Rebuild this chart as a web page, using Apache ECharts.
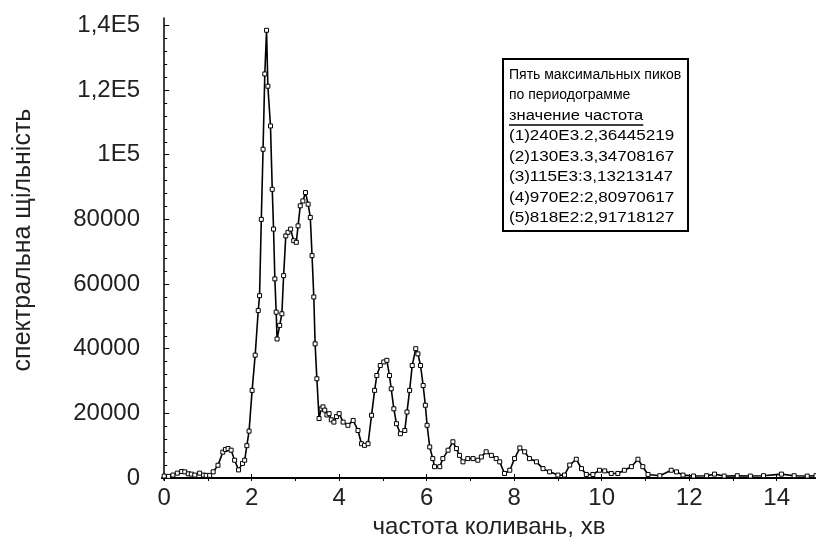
<!DOCTYPE html>
<html>
<head>
<meta charset="utf-8">
<script src="https://cdn.jsdelivr.net/npm/echarts@6/dist/echarts.min.js"></script>
<style>
  html, body { margin: 0; padding: 0; background: #fff; }
  #chart { width: 816px; height: 544px; }
</style>
</head>
<body>
<div id="chart"></div>
<script>
// частота (x) and спектральна щільність (y)
const freq = [
  0.00, 0.10, 0.20, 0.30, 0.40, 0.47, 0.55, 0.62, 0.70, 0.81, 0.90, 0.96,
  1.04, 1.12, 1.23, 1.34, 1.40, 1.46, 1.53, 1.61, 1.70, 1.79, 1.84, 1.89,
  1.94, 2.01, 2.08, 2.15, 2.18, 2.22, 2.26, 2.30, 2.34, 2.37, 2.43, 2.47,
  2.50, 2.53, 2.56, 2.58, 2.64, 2.69, 2.73, 2.78, 2.83, 2.89, 2.96, 3.02,
  3.06, 3.11, 3.17, 3.23, 3.29, 3.34, 3.38, 3.42, 3.45, 3.49, 3.54, 3.59,
  3.63, 3.67, 3.72, 3.77, 3.82, 3.88, 3.94, 4.00, 4.09, 4.20, 4.32, 4.43,
  4.51, 4.58, 4.66, 4.74, 4.81, 4.86, 4.94, 5.02, 5.09, 5.15, 5.19, 5.25,
  5.31, 5.40, 5.50, 5.55, 5.61, 5.67, 5.75, 5.80, 5.86, 5.92, 5.97, 6.01,
  6.07, 6.14, 6.18, 6.30, 6.37, 6.49, 6.60, 6.68, 6.75, 6.83, 6.94, 7.06,
  7.17, 7.25, 7.36, 7.48, 7.59, 7.67, 7.78, 7.90, 8.01, 8.13, 8.24, 8.35,
  8.51, 8.66, 8.81, 9.00, 9.15, 9.27, 9.42, 9.54, 9.65, 9.80, 9.95, 10.07,
  10.22, 10.37, 10.52, 10.68, 10.83, 10.94, 11.06, 11.33, 11.59, 11.71, 11.86, 12.10,
  12.40, 12.58, 12.80, 13.10, 13.40, 13.70, 14.11, 14.40, 14.70, 14.90
];
const density = [
  600, 500, 900, 1500, 2000, 1900, 1300, 1200, 900, 1500, 900, 800,
  800, 1900, 3950, 8000, 8800, 9100, 8600, 5500, 2500, 4500, 5500, 10000,
  14500, 27100, 38000, 51800, 56400, 80000, 101700, 125000, 138500, 121200, 108900, 89300,
  77000, 61600, 51300, 43000, 47200, 50800, 62600, 74900, 76000, 77000, 73400, 72900,
  78000, 84200, 85700, 88300, 84700, 80600, 68800, 56000, 41500, 30700, 18400, 21400,
  22000, 21000, 19500, 19900, 18000, 17300, 19000, 19900, 17300, 16300, 17800, 14700,
  10600, 10100, 10600, 19400, 27100, 31700, 34800, 35900, 36400, 31700, 27600, 21400,
  16800, 13700, 14700, 20400, 27100, 34800, 40000, 38400, 34800, 28600, 22500, 16300,
  9600, 6000, 3500, 3500, 6000, 8600, 11200, 9100, 7000, 5000, 6000, 6000,
  5500, 6500, 8100, 7000, 6000, 5000, 1400, 2400, 6000, 9300, 8100, 6000,
  5000, 2900, 1900, 900, 900, 4000, 5800, 2900, 1100, 1100, 2400, 2200,
  1400, 1400, 2400, 3500, 5800, 3500, 1100, 700, 2400, 1900, 900, 600,
  700, 1200, 600, 700, 600, 700, 1200, 700, 600, 700
];

const xTicks = [0, 2, 4, 6, 8, 10, 12, 14];
const xTopTicks = [0, 1, 2, 3, 4, 5, 6, 7, 8, 9, 10, 11, 12, 13, 14];
const yTicks = [0, 20000, 40000, 60000, 80000, 100000, 120000, 140000];
const yTickLabels = ['0', '20000', '40000', '60000', '80000', '1E5', '1,2E5', '1,4E5'];
const yMinorTicks = [];
for (let v = 0; v <= 140000; v += 4000) yMinorTicks.push(v);

const noteLines = [
  'Пять максимальных пиков',
  'по периодограмме',
  'значение частота',
  '(1)240E3.2,36445219',
  '(2)130E3.3,34708167',
  '(3)115E3:3,13213147',
  '(4)970E2:2,80970617',
  '(5)818E2:2,91718127'
];
// the digits in the note are drawn wider than the words
const noteStretch = [1.0, 1.0, 1.18, 1.22, 1.22, 1.22, 1.22, 1.22];

const FONT = '"Liberation Sans", Arial, sans-serif';
const data = freq.map((x, i) => [x, density[i]]);

const ctx = document.createElement('canvas').getContext('2d');
ctx.font = '14px "Liberation Sans"';

const boxX = 503, boxY = 59, boxW = 185, boxH = 172;
const lineY0 = 75, lineStep = 20.5;
const graphics = [{
  type: 'rect',
  shape: { x: boxX, y: boxY, width: boxW, height: boxH },
  style: { fill: '#fff', stroke: '#000', lineWidth: 2 },
  z: 10
}];
noteLines.forEach((t, i) => {
  graphics.push({
    type: 'text',
    x: boxX + 6,
    y: lineY0 + i * lineStep,
    scaleX: noteStretch[i],
    style: { text: t, fontFamily: FONT, fontSize: 14, fill: '#000', verticalAlign: 'middle' },
    z: 11
  });
});
const ulY = lineY0 + 2 * lineStep + 9;
const ulW = ctx.measureText(noteLines[2]).width * noteStretch[2];
graphics.push({
  type: 'line',
  shape: { x1: boxX + 6, y1: ulY, x2: boxX + 6 + ulW, y2: ulY },
  style: { stroke: '#000', lineWidth: 1.5 },
  z: 11
});

const chart = echarts.init(document.getElementById('chart'));

const option = {
  animation: false,
  backgroundColor: '#fff',
  grid: { left: 162, top: 18, right: 0, bottom: 62 },
  xAxis: [{
    type: 'value',
    min: -0.05,
    max: 14.9,
    name: 'частота коливань, хв',
    nameLocation: 'middle',
    nameGap: 35,
    nameTextStyle: { fontFamily: FONT, fontSize: 24, color: '#222' },
    axisLine: { show: true, lineStyle: { color: '#000', width: 2 } },
    axisTick: { show: true, inside: true, length: 4, customValues: xTicks, lineStyle: { color: '#000' } },
    axisLabel: { customValues: xTicks, margin: 6, fontFamily: FONT, fontSize: 24, color: '#222' },
    splitLine: { show: false }
  }, {
    type: 'value',
    position: 'top',
    min: -0.05,
    max: 14.9,
    axisLine: { show: true, lineStyle: { color: '#000', width: 1.5 } },
    axisTick: { show: true, inside: true, length: 3, customValues: xTopTicks, lineStyle: { color: '#000' } },
    axisLabel: { show: false },
    splitLine: { show: false }
  }],
  yAxis: [{
    type: 'value',
    min: -620,
    max: 142300,
    name: 'спектральна щільність',
    nameLocation: 'middle',
    nameGap: 126,
    nameRotate: 90,
    nameTextStyle: { fontFamily: FONT, fontSize: 25, color: '#222', padding: [0, 0, 0, 18] },
    axisLine: { show: true, lineStyle: { color: '#000', width: 1.5 } },
    axisTick: { show: true, inside: true, length: 5, customValues: yTicks, lineStyle: { color: '#000' } },
    axisLabel: {
      customValues: yTicks,
      margin: 22,
      fontFamily: FONT,
      fontSize: 24,
      color: '#222',
      formatter: v => yTickLabels[yTicks.indexOf(v)]
    },
    splitLine: { show: false }
  }, {
    type: 'value',
    min: -620,
    max: 142300,
    position: 'left',
    axisLine: { show: false },
    axisTick: { show: true, inside: true, length: 3, customValues: yMinorTicks, lineStyle: { color: '#000' } },
    axisLabel: { show: false },
    splitLine: { show: false }
  }],
  series: [{
    type: 'line',
    xAxisIndex: 0,
    yAxisIndex: 0,
    data: data,
    lineStyle: { color: '#000', width: 1.6 },
    symbol: 'rect',
    symbolSize: 4,
    showAllSymbol: true,
    itemStyle: { color: '#fff', borderColor: '#000', borderWidth: 1 },
    z: 3
  }],
  graphic: graphics
};

chart.setOption(option);
</script>
</body>
</html>
